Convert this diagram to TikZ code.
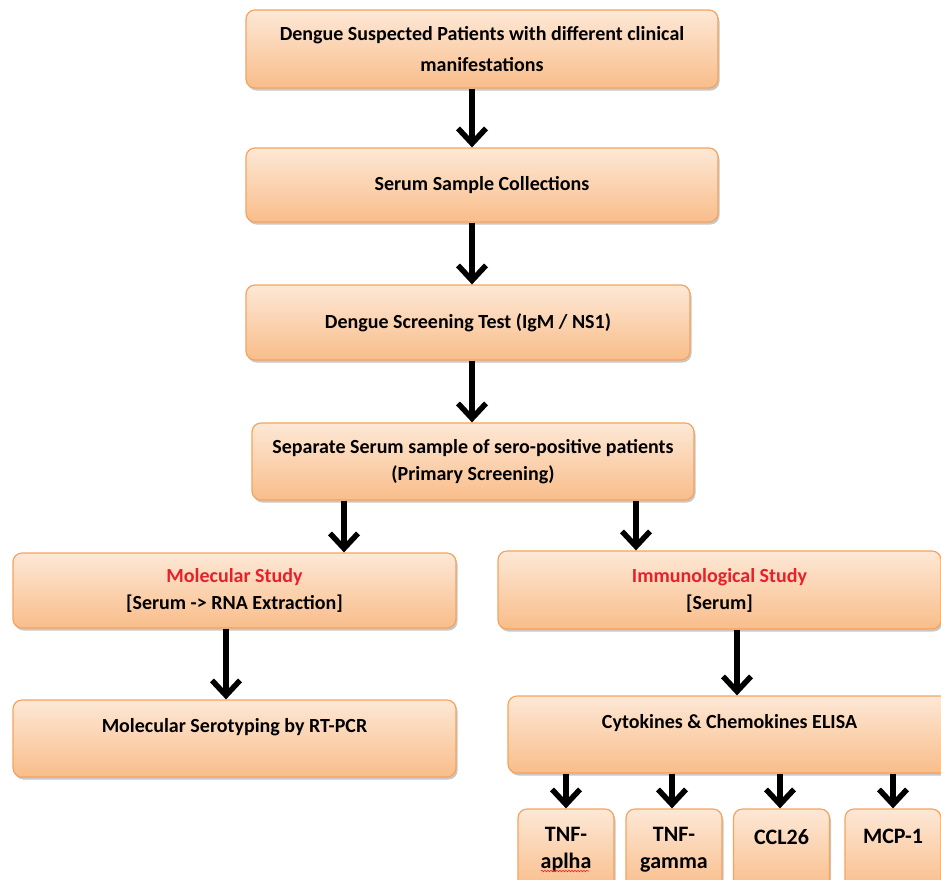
\documentclass[tikz,border=0pt]{standalone}
\usepackage{fontspec}
\setmainfont{Carlito}
\usetikzlibrary{arrows.meta,shadows,decorations.pathmorphing}
\definecolor{boxtop}{HTML}{FDE8D6}
\definecolor{boxbot}{HTML}{F9BD8A}
\definecolor{boxline}{HTML}{F6A35E}
\definecolor{studyred}{HTML}{E8202A}
\tikzset{
  box/.style={draw=boxline, line width=1.2pt, rounded corners=9pt,
    top color=boxtop, bottom color=boxbot,
    drop shadow={opacity=0.3, shadow xshift=1.5pt, shadow yshift=-2.5pt, fill=black!70},
    align=center, font=\bfseries\fontsize{20}{27}\selectfont, inner sep=0pt},
  bigbox/.style={box, minimum height=77pt},
  smallbox/.style={box, minimum width=96pt, minimum height=82pt, font=\bfseries\fontsize{22}{27}\selectfont},
  arr/.style={line width=5.5pt, -{Straight Barb[length=15pt,width=28pt]}},
  redtxt/.style={text=studyred}
}
\begin{document}
\begin{tikzpicture}[x=1pt,y=-1pt]
\useasboundingbox (0,0) rectangle (941,879);
\fill[white] (0,0) rectangle (941,879);

\node[bigbox, minimum width=472pt, minimum height=78pt, font=\bfseries\fontsize{20}{31}\selectfont] (b1) at (482,49)
  {Dengue Suspected Patients with different clinical\\manifestations};
\node[bigbox, minimum width=472pt, minimum height=74pt] (b2) at (482,185)
  {Serum Sample Collections};
\node[bigbox, minimum width=444pt, minimum height=75pt] (b3) at (468,322.5)
  {Dengue Screening Test (IgM / NS1)};
\node[bigbox, minimum width=442pt] (b4) at (473,461.5)
  {Separate Serum sample of sero-positive patients\\(Primary Screening)};
\node[bigbox, minimum width=443pt, minimum height=75pt] (b5) at (234.5,590.5)
  {\textcolor{studyred}{Molecular Study}\\{[Serum -> RNA Extraction]}};
\node[bigbox, minimum width=443pt] (b6) at (234.5,738.5)
  {Molecular Serotyping by RT-PCR\\~};
\node[bigbox, minimum width=443pt, minimum height=78pt] (b7) at (719.5,590)
  {\textcolor{studyred}{Immunological Study}\\{[Serum]}};
\node[bigbox, minimum width=443pt] (b8) at (729.5,734.5)
  {Cytokines \& Chemokines ELISA\\~};

\node[smallbox] (c1) at (566,850) {TNF-\\aplha};
\node[smallbox] (c2) at (674,850) {TNF-\\gamma};
\node[smallbox] (c3) at (781.5,850) {CCL26\\~};
\node[smallbox] (c4) at (893,850) {MCP-1\\~};

\draw[studyred, line width=0.6pt, decorate,
  decoration={snake, amplitude=0.8pt, segment length=3pt}] (541,871) -- (589,871);

\coordinate (xa) at (472,0);
\coordinate (xb) at (344,0);
\coordinate (xc) at (636,0);
\coordinate (xd) at (226,0);
\coordinate (xe) at (737,0);
\coordinate (xf) at (566,0);
\coordinate (xg) at (672,0);
\coordinate (xh) at (780,0);
\coordinate (xi) at (893,0);

\draw[arr] (xa |- b1.south) -- (xa |- b2.north);
\draw[arr] (xa |- b2.south) -- (xa |- b3.north);
\draw[arr] (xa |- b3.south) -- (xa |- b4.north);
\draw[arr] (xb |- b4.south) -- (xb |- b5.north);
\draw[arr] (xc |- b4.south) -- (xc |- b7.north);
\draw[arr] (xd |- b5.south) -- (xd |- b6.north);
\draw[arr] (xe |- b7.south) -- (xe |- b8.north);
\draw[arr] (xf |- b8.south) -- (xf |- c1.north);
\draw[arr] (xg |- b8.south) -- (xg |- c2.north);
\draw[arr] (xh |- b8.south) -- (xh |- c3.north);
\draw[arr] (xi |- b8.south) -- (xi |- c4.north);
\end{tikzpicture}
\end{document}
